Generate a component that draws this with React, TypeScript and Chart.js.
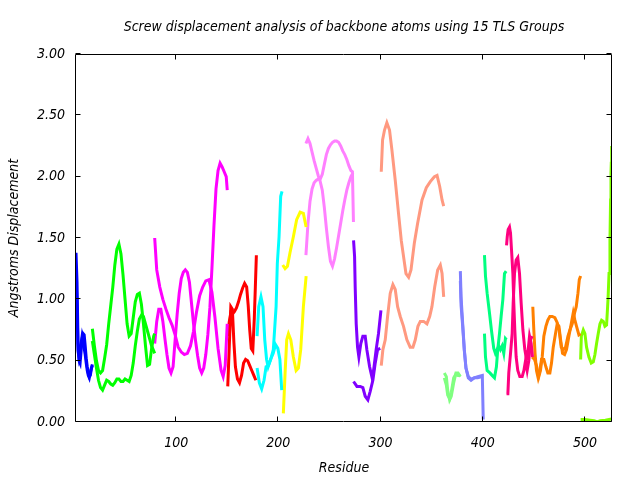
import React, { useEffect, useRef } from "react";
import { Chart, registerables } from "chart.js";

Chart.register(...registerables);

const TITLE = "Screw displacement analysis of backbone atoms using 15 TLS Groups";
const X_TITLE = "Residue";
const Y_TITLE = "Angstroms Displacement";
const X_TICKS = [100, 200, 300, 400, 500];
const Y_TICKS = [0, 0.5, 1, 1.5, 2, 2.5, 3];
const X_MIN = 2;
const X_MAX = 526.5;
const Y_MIN = 0;
const Y_MAX = 3;

const FONT_FAMILY = '"DejaVu Sans Condensed", "DejaVu Sans", sans-serif';

// Group colours (15 TLS groups)
const GROUP_COLORS = [
  "#0000ff", "#00ff00", "#ff00ff", "#ff0000", "#00ffff",
  "#ffff00", "#ff80ff", "#8000ff", "#ff9980", "#80ff80",
  "#8080ff", "#00ff80", "#ff0080", "#ff8000", "#80ff00",
];

// Group 1 (blue)
const g1X = [2, 3, 4, 5, 6, 7, 8, 9, 10, 11, 12, 13, 14, 15, 16, 17, 18];
const g1A = [1.38, 1.14, 0.64, 0.5, 0.48, 0.58, 0.68, 0.72, 0.71, 0.62, 0.52, 0.45, 0.4, 0.37, 0.38, 0.43, 0.47];
const g1B = [1.2, 0.95, 0.58, 0.52, 0.56, 0.64, 0.7, 0.66, 0.6, 0.55, 0.48, 0.42, 0.38, 0.36, 0.4, 0.44, 0.46];

// Group 2 (green)
const g2X = [18, 20, 22, 24, 26, 28, 30, 32, 34, 36, 38, 40, 42, 44, 46, 48, 50, 52, 54, 56, 58, 60, 62, 64, 66, 68, 70, 72, 74, 76, 78, 79];
const g2A = [0.76, 0.62, 0.5, 0.42, 0.4, 0.42, 0.52, 0.63, 0.8, 0.95, 1.1, 1.28, 1.41, 1.45, 1.37, 1.2, 1.0, 0.8, 0.7, 0.72, 0.85, 0.98, 1.04, 1.05, 0.96, 0.8, 0.62, 0.46, 0.47, 0.6, 0.7, 0.72];
const g2B = [0.66, 0.55, 0.44, 0.34, 0.28, 0.26, 0.3, 0.34, 0.33, 0.31, 0.3, 0.32, 0.35, 0.35, 0.33, 0.33, 0.35, 0.34, 0.33, 0.38, 0.48, 0.62, 0.74, 0.84, 0.87, 0.86, 0.8, 0.74, 0.68, 0.62, 0.58, 0.56];

// Group 3 (magenta)
const g3XA = [79, 81, 84, 87, 90, 93, 96, 99, 102, 105, 108, 111, 114, 117, 120, 123, 126, 129, 132, 135, 138, 141, 144, 146, 148, 150];
const g3A = [1.5, 1.24, 1.1, 1.0, 0.92, 0.85, 0.79, 0.71, 0.61, 0.57, 0.55, 0.56, 0.62, 0.74, 0.9, 1.03, 1.1, 1.15, 1.16, 1.06, 0.85, 0.6, 0.42, 0.37, 0.46, 0.8];
const g3XB = [79, 81, 83, 85, 87, 89, 91, 93, 95, 97, 99, 101, 103, 105, 107, 109, 111, 113, 115, 117, 119, 121, 123, 125, 127, 129, 131, 133, 135, 137, 139, 141, 143, 145, 147, 149, 150];
const g3B = [0.64, 0.82, 0.92, 0.92, 0.82, 0.68, 0.55, 0.44, 0.4, 0.45, 0.67, 0.88, 1.05, 1.17, 1.22, 1.24, 1.22, 1.14, 0.97, 0.8, 0.66, 0.54, 0.44, 0.4, 0.44, 0.55, 0.71, 0.93, 1.25, 1.6, 1.9, 2.05, 2.11, 2.08, 2.04, 2.0, 1.89];

// Group 4 (red)
const g4XA = [150.5, 152, 153.5, 155, 156.5, 158, 160, 162, 164, 166, 168, 170, 172, 174, 176, 178];
const g4A = [0.29, 0.62, 0.94, 0.92, 0.65, 0.45, 0.35, 0.32, 0.38, 0.48, 0.51, 0.5, 0.46, 0.42, 0.38, 0.34];
const g4XB = [150.5, 152, 153.5, 155, 157, 159, 161, 163, 165, 167, 169, 170.5, 172, 173.5, 175, 176.5, 177.5, 178.5];
const g4B = [0.7, 0.82, 0.89, 0.88, 0.9, 0.93, 0.98, 1.04, 1.09, 1.13, 1.1, 0.95, 0.75, 0.6, 0.58, 0.85, 1.1, 1.36];

// Group 5 (cyan)
const g5XA = [179.2, 180.8, 183, 185, 186.7, 188.5, 190, 192.4, 195, 197.3, 199.5, 201.5, 203.3];
const g5A = [0.7, 0.94, 1.02, 0.94, 0.67, 0.51, 0.45, 0.51, 0.56, 0.63, 0.6, 0.51, 0.26];
const g5XB = [179.2, 181.4, 183.7, 186, 188, 190.2, 192.5, 195.1, 197.8, 199, 200.7, 202.3, 203.6];
const g5B = [0.44, 0.32, 0.27, 0.34, 0.45, 0.46, 0.51, 0.59, 0.94, 1.29, 1.51, 1.84, 1.88];

// Group 6 (yellow)
const g6XA = [204.3, 206.6, 208.9, 211.4, 214.7, 217.9, 221.3, 224.5, 227.2];
const g6A = [1.28, 1.25, 1.27, 1.38, 1.51, 1.65, 1.71, 1.7, 1.59];
const g6XB = [204.9, 206.6, 208.2, 209.9, 212.2, 214.7, 217.4, 219.6, 221.9, 224.5, 227.2];
const g6B = [0.07, 0.4, 0.67, 0.72, 0.67, 0.53, 0.42, 0.44, 0.59, 0.94, 1.19];

// Group 7 (pink)
const g7XA = [227, 229, 231, 233, 235, 237, 239, 241, 243, 245, 247, 249, 251, 253, 255, 257, 259, 261, 263, 265, 267, 269, 271, 273];
const g7A = [2.27, 2.31, 2.27, 2.2, 2.13, 2.07, 2.01, 1.96, 1.89, 1.75, 1.58, 1.43, 1.31, 1.27, 1.33, 1.42, 1.52, 1.62, 1.72, 1.81, 1.89, 1.95, 2.0, 2.03];
const g7XB = [227, 229, 231, 233, 235, 237, 239, 241, 243, 245, 247, 249, 251, 253, 255, 257, 259, 261, 263, 265, 267, 269, 271, 272.5, 273.5];
const g7B = [1.36, 1.62, 1.8, 1.9, 1.95, 1.97, 1.98, 1.98, 2.02, 2.1, 2.18, 2.23, 2.26, 2.28, 2.29, 2.29, 2.28, 2.25, 2.21, 2.18, 2.14, 2.09, 2.05, 2.04, 1.63];

// Group 8 (purple)
const g8XA = [273.6, 274.6, 275.2, 276.2, 277.5, 278.8, 280.7, 282.7, 285, 286.6, 289.3, 291.5, 293.2, 295.7, 298, 300.4];
const g8A = [1.48, 1.35, 1.1, 0.8, 0.61, 0.53, 0.64, 0.7, 0.7, 0.59, 0.45, 0.37, 0.42, 0.59, 0.72, 0.91];
const g8XB = [273.6, 276.9, 280.1, 282.7, 285, 287.6, 289.9, 292.5, 294.8, 297.1, 299.7];
const g8B = [0.33, 0.29, 0.29, 0.28, 0.21, 0.18, 0.25, 0.34, 0.48, 0.59, 0.6];

// Group 9 (salmon)
const g9XA = [300.7, 302, 303.9, 306.2, 308.8, 311.1, 314.4, 317.6, 320.3, 322.5, 324.9, 327.5, 329.8, 333.1, 336.3, 340.6, 344.8, 348.7, 352.7, 355.3, 357.9, 360.2, 361.8];
const g9A = [2.04, 2.3, 2.38, 2.44, 2.38, 2.22, 1.97, 1.7, 1.48, 1.35, 1.21, 1.18, 1.24, 1.46, 1.62, 1.81, 1.91, 1.96, 2.0, 2.01, 1.92, 1.81, 1.76];
const g9XB = [300.7, 302.3, 304.6, 306.9, 309.5, 312.1, 314.4, 316.7, 319.3, 322.5, 325.8, 329, 331.7, 334, 336.6, 338.9, 342.2, 345.4, 348.1, 350.3, 353, 355.9, 358.5, 360.2, 361.8];
const g9B = [0.46, 0.59, 0.67, 0.86, 1.05, 1.12, 1.08, 0.94, 0.86, 0.78, 0.67, 0.61, 0.61, 0.67, 0.78, 0.82, 0.82, 0.8, 0.86, 0.94, 1.1, 1.24, 1.28, 1.21, 1.02];

// Group 10 (light green)
const g10X = [362.4, 364.4, 365.7, 367.6, 369.2, 371.6, 373.8, 375.8, 378.1];
const g10A = [0.4, 0.37, 0.26, 0.18, 0.21, 0.32, 0.4, 0.4, 0.37];
const g10B = [0.36, 0.3, 0.22, 0.19, 0.24, 0.36, 0.39, 0.38, 0.38];

// Group 11 (periwinkle)
const g11X = [378.1, 378.8, 380.4, 382, 383.6, 385.9, 388.6, 391.8, 395.1, 399.6, 400.5];
const g11A = [1.23, 1.02, 0.8, 0.59, 0.44, 0.36, 0.34, 0.36, 0.37, 0.38, 0.02];
const g11B = [1.15, 0.95, 0.78, 0.58, 0.44, 0.37, 0.35, 0.36, 0.36, 0.37, 0.37];

// Group 12 (spring green)
const g12XA = [401.7, 402.7, 404.3, 406.6, 408.5, 410.8, 412.4, 414, 415.7, 417.3, 419, 420.6, 422.2, 423.2];
const g12A = [1.36, 1.19, 1.05, 0.89, 0.75, 0.6, 0.56, 0.59, 0.62, 0.59, 0.62, 0.56, 0.68, 0.67];
const g12XB = [401.7, 402.7, 404.3, 407, 409.2, 411.5, 413.4, 414.7, 416.4, 418, 419.7, 421.3, 422.9];
const g12B = [0.72, 0.53, 0.42, 0.4, 0.38, 0.36, 0.45, 0.59, 0.72, 0.86, 1.0, 1.21, 1.23];

// Group 13 (deep pink)
const g13XA = [423.3, 424, 424.9, 426.2, 427.2, 428.2, 429.5, 430.4, 431.4, 432.7, 434.3, 436.3, 438.6, 440.3, 441.9, 443.5, 445.1, 446.7, 448.4];
const g13A = [1.44, 1.51, 1.57, 1.59, 1.54, 1.4, 1.21, 0.97, 0.75, 0.53, 0.42, 0.37, 0.37, 0.42, 0.5, 0.42, 0.5, 0.67, 0.7];
const g13XB = [423.3, 424.6, 425.5, 427.2, 428.8, 429.8, 431.1, 432.7, 434.3, 436, 437.6, 439.3, 441.2, 442.8, 444.5, 445.8, 447.4, 448.7];
const g13B = [0.23, 0.23, 0.4, 0.56, 0.72, 0.97, 1.21, 1.32, 1.34, 1.21, 0.97, 0.75, 0.59, 0.51, 0.59, 0.7, 0.64, 0.53];

// Group 14 (orange)
const g14XA = [449, 450, 451.2, 452.6, 454.2, 455.9, 457.5, 459.8, 461.8, 463.7, 465.7, 467.3, 469, 471.2, 472.9, 474.6, 476.2, 478.1, 480.1, 482, 484.3, 486.6, 488.6, 490.2, 491.8, 494.1, 495.8];
const g14A = [0.94, 0.75, 0.56, 0.42, 0.36, 0.42, 0.51, 0.51, 0.45, 0.4, 0.4, 0.48, 0.61, 0.72, 0.8, 0.78, 0.67, 0.56, 0.55, 0.59, 0.7, 0.8, 0.89, 0.83, 0.78, 0.71, 0.72];
const g14XB = [448.4, 450.7, 452.6, 454.9, 456.5, 458.2, 459.8, 461.8, 463.7, 465.7, 468, 470.6, 472.9, 474.9, 476.8, 478.8, 481.1, 483.4, 485.3, 487.6, 489.9, 491.5, 493.2, 494.5, 495.8];
const g14B = [0.53, 0.51, 0.46, 0.37, 0.42, 0.53, 0.7, 0.78, 0.83, 0.86, 0.86, 0.85, 0.81, 0.74, 0.61, 0.59, 0.61, 0.7, 0.75, 0.8, 0.89, 0.94, 1.05, 1.16, 1.19];

// Group 15 (chartreuse)
const g15XA = [495.8, 496.5, 498.4, 500, 501.6, 503.9, 506.2, 508.2, 509.8, 511.4, 513, 514.7, 516.3, 518, 519.6, 521.2, 522.6, 523.6, 524.5, 525.1, 525.5, 525.8, 526.2];
const g15A = [0.51, 0.7, 0.75, 0.72, 0.61, 0.53, 0.48, 0.49, 0.55, 0.64, 0.72, 0.8, 0.83, 0.82, 0.78, 0.79, 1.0, 1.21, 1.48, 1.81, 2.03, 2.11, 2.25];
const g15XB = [495.8, 500, 505, 509, 512, 515, 520, 526.2];
const g15B = [0.02, 0.02, 0.015, 0.01, 0.0, 0.01, 0.015, 0.025];

const SERIES: [number[], number[], number][] = [
  [g1X, g1A, 0], [g1X, g1B, 0],
  [g2X, g2A, 1], [g2X, g2B, 1],
  [g3XA, g3A, 2], [g3XB, g3B, 2],
  [g4XA, g4A, 3], [g4XB, g4B, 3],
  [g5XA, g5A, 4], [g5XB, g5B, 4],
  [g6XA, g6A, 5], [g6XB, g6B, 5],
  [g7XA, g7A, 6], [g7XB, g7B, 6],
  [g8XA, g8A, 7], [g8XB, g8B, 7],
  [g9XA, g9A, 8], [g9XB, g9B, 8],
  [g10X, g10A, 9], [g10X, g10B, 9],
  [g11X, g11A, 10], [g11X, g11B, 10],
  [g12XA, g12A, 11], [g12XB, g12B, 11],
  [g13XA, g13A, 12], [g13XB, g13B, 12],
  [g14XA, g14A, 13], [g14XB, g14B, 13],
  [g15XA, g15A, 14], [g15XB, g15B, 14],
];

const framePlugin = {
  id: "gnuFrame",
  afterDraw(chart: any) {
    const { ctx, chartArea: a, scales } = chart;
    const tl = 5;
    ctx.save();
    ctx.strokeStyle = "#000";
    ctx.lineWidth = 1;
    const L = Math.round(a.left) - 0.5;
    const R = Math.round(a.right) - 0.5;
    const T = Math.round(a.top) + 0.5;
    const B = Math.round(a.bottom) - 0.5;
    ctx.beginPath();
    ctx.rect(L, T, R - L, B - T);
    for (const v of Y_TICKS) {
      const y = Math.round(scales.y.getPixelForValue(v)) - 0.5;
      ctx.moveTo(L, y);
      ctx.lineTo(L + tl, y);
      ctx.moveTo(R, y);
      ctx.lineTo(R - tl, y);
    }
    for (const v of X_TICKS) {
      const x = Math.round(scales.x.getPixelForValue(v)) - 0.5;
      ctx.moveTo(x, B);
      ctx.lineTo(x, B - tl);
      ctx.moveTo(x, T);
      ctx.lineTo(x, T + tl);
    }
    ctx.stroke();
    ctx.restore();
  },
};

export default function App() {
  const ref = useRef<HTMLCanvasElement | null>(null);

  useEffect(() => {
    if (!ref.current) return;
    const font = { family: FONT_FAMILY, size: 14, style: "italic" as const, weight: "normal" as const };
    const datasets = SERIES.map(([xs, ys, g]) => ({
      data: xs.map((x, i) => ({ x, y: ys[i] })),
      borderColor: GROUP_COLORS[g],
      backgroundColor: GROUP_COLORS[g],
      borderWidth: 3,
      pointRadius: 0,
      fill: false,
      tension: 0,
    }));
    const chart = new Chart(ref.current, {
      type: "line",
      data: { datasets },
      options: {
        responsive: false,
        animation: false,
        devicePixelRatio: 1,
        layout: { padding: { left: 0, right: 28, top: 0, bottom: 0 } },
        plugins: {
          legend: { display: false },
          tooltip: { enabled: false },
          title: {
            display: true,
            text: TITLE,
            fullSize: false,
            color: "#000",
            font,
            padding: { top: 19, bottom: 18.2 },
          },
        },
        scales: {
          x: {
            type: "linear",
            min: X_MIN,
            max: X_MAX,
            grid: { display: false, drawTicks: false },
            border: { display: false },
            ticks: {
              color: "#000",
              font,
              padding: 13,
              maxRotation: 0,
              autoSkip: false,
              callback: (v: any) => String(v),
            },
            title: { display: true, text: X_TITLE, color: "#000", font, padding: { top: 0, bottom: 3 } },
            afterBuildTicks: (s: any) => {
              s.ticks = X_TICKS.map((v) => ({ value: v }));
            },
            afterFit: (s: any) => {
              s.height = 58;
            },
          },
          y: {
            type: "linear",
            min: Y_MIN,
            max: Y_MAX,
            grid: { display: false, drawTicks: false },
            border: { display: false },
            ticks: {
              color: "#000",
              font,
              padding: 11,
              autoSkip: false,
              callback: (v: any) => Number(v).toFixed(2),
            },
            title: { display: true, text: Y_TITLE, color: "#000", font, padding: { top: 6, bottom: 0 } },
            afterBuildTicks: (s: any) => {
              s.ticks = Y_TICKS.map((v) => ({ value: v }));
            },
            afterFit: (s: any) => {
              s.width = 76;
            },
          },
        },
      },
      plugins: [framePlugin],
    });
    return () => chart.destroy();
  }, []);

  return (
    <div style={{ position: "absolute", left: 0, top: 0, width: 640, height: 480, background: "#fff" }}>
      <canvas ref={ref} width={640} height={480} style={{ width: 640, height: 480, display: "block" }} />
    </div>
  );
}
